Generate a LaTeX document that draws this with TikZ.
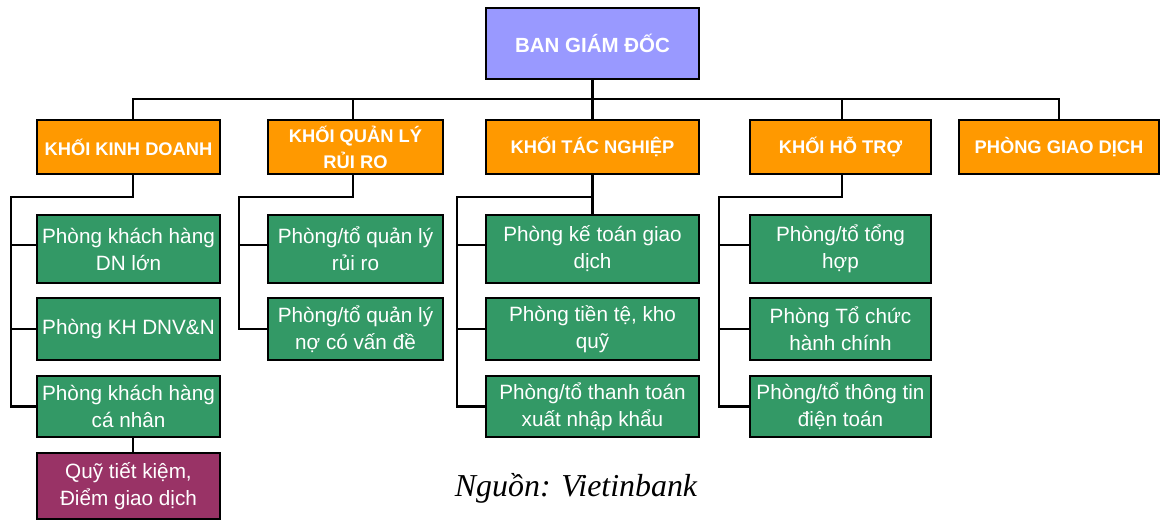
\documentclass[tikz,border=0pt]{standalone}
\usepackage{fontspec}
\setmainfont{Liberation Sans}
\newfontfamily\srcfont{Liberation Serif}
\definecolor{topfill}{HTML}{9999FF}
\definecolor{orgfill}{HTML}{FF9900}
\definecolor{grnfill}{HTML}{339966}
\definecolor{purfill}{HTML}{993366}
\tikzset{
  box/.style={draw=black, line width=2.7pt, inner sep=0pt, align=center, text=white, anchor=center},
  topbox/.style={box, fill=topfill, minimum width=213pt, minimum height=71pt, font=\bfseries\fontsize{20.5}{24}\selectfont},
  orgbox/.style={box, fill=orgfill, minimum height=54pt, font=\bfseries\fontsize{18.3}{26}\selectfont},
  grnbox/.style={box, fill=grnfill, font=\fontsize{20.7}{27}\selectfont},
  purbox/.style={box, fill=purfill, font=\fontsize{20.7}{27}\selectfont},
  conn/.style={draw=black, line width=2.7pt, line join=miter, line cap=rect},
}
\begin{document}
\begin{tikzpicture}[x=1pt, y=-1pt]
\useasboundingbox (0,0) rectangle (1161,520);
% top
\node[topbox] (top) at (592.5,43.5) {BAN GIÁM ĐỐC};
% level 2
\node[orgbox, minimum width=183pt] (kkd) at (128.5,147) {KHỐI KINH DOANH};
\node[orgbox, minimum width=175pt] (qlrr) at (355.5,147) {KHỐI QUẢN LÝ\\RỦI RO};
\node[orgbox, minimum width=213pt] (tn) at (592.5,147) {KHỐI TÁC NGHIỆP};
\node[orgbox, minimum width=181pt] (ht) at (840.5,147) {KHỐI HỖ TRỢ};
\node[orgbox, minimum width=200pt] (pgd) at (1059,147) {PHÒNG GIAO DỊCH};
% KKD column
\node[grnbox, minimum width=183pt, minimum height=68pt] (k1) at (128.5,249) {Phòng khách hàng\\DN lớn};
\node[grnbox, minimum width=183pt, minimum height=62pt] (k2) at (128.5,329) {Phòng KH DNV\&N};
\node[grnbox, minimum width=183pt, minimum height=61pt] (k3) at (128.5,406.5) {Phòng khách hàng\\cá nhân};
\node[purbox, minimum width=183pt, minimum height=66pt] (k4) at (128.5,486) {Quỹ tiết kiệm,\\Điểm giao dịch};
% QLRR column
\node[grnbox, minimum width=175pt, minimum height=68pt] (q1) at (355.5,249) {Phòng/tổ quản lý\\rủi ro};
\node[grnbox, minimum width=175pt, minimum height=62pt] (q2) at (355.5,329) {Phòng/tổ quản lý\\nợ có vấn đề};
% TN column
\node[grnbox, minimum width=213pt, minimum height=68pt] (t1) at (592.5,249) {Phòng kế toán giao\\dịch};
\node[grnbox, minimum width=213pt, minimum height=62pt] (t2) at (592.5,329) {Phòng tiền tệ, kho\\quỹ};
\node[grnbox, minimum width=213pt, minimum height=61pt] (t3) at (592.5,406.5) {Phòng/tổ thanh toán\\xuất nhập khẩu};
% HT column
\node[grnbox, minimum width=181pt, minimum height=68pt] (h1) at (840.5,249) {Phòng/tổ tổng\\hợp};
\node[grnbox, minimum width=181pt, minimum height=62pt] (h2) at (840.5,329) {Phòng Tổ chức\\hành chính};
\node[grnbox, minimum width=181pt, minimum height=61pt] (h3) at (840.5,406.5) {Phòng/tổ thông tin\\điện toán};
% source
\node[font=\srcfont\itshape\fontsize{31.9}{36}\selectfont, inner sep=0pt] (src) at (576,488) {Nguồn: Vietinbank};
% helper coordinates
\coordinate (busy) at (0,99);
\coordinate (bry) at (0,197);
\coordinate (rk) at (11,0);
\coordinate (rq) at (239,0);
\coordinate (rt) at (457,0);
\coordinate (rh) at (719,0);
\coordinate (kkdn) at ([xshift=4.5pt]kkd.north);
\coordinate (kkds) at ([xshift=4.5pt]kkd.south);
\coordinate (qlrrn) at ([xshift=-2.5pt]qlrr.north);
\coordinate (qlrrs) at ([xshift=-2.5pt]qlrr.south);
\coordinate (htn) at ([xshift=1.5pt]ht.north);
\coordinate (hts) at ([xshift=1.5pt]ht.south);
\coordinate (k1w) at ([yshift=4pt]k1.west);
\coordinate (q1w) at ([yshift=4pt]q1.west);
\coordinate (t1w) at ([yshift=4pt]t1.west);
\coordinate (h1w) at ([yshift=4pt]h1.west);
% connectors: top bus
\draw[conn] (top.south) -- (tn.north);
\draw[conn] (kkdn) -- (kkdn |- busy) -- (pgd.north |- busy) -- (pgd.north);
\draw[conn] (qlrrn) -- (qlrrn |- busy);
\draw[conn] (htn) -- (htn |- busy);
% KKD branch
\draw[conn] (kkds) -- (kkds |- bry) -- (rk |- bry) -- (rk |- k3.west) -- (k3.west);
\draw[conn] (rk |- k1w) -- (k1w);
\draw[conn] (rk |- k2.west) -- (k2.west);
\draw[conn] (kkds |- k3.south) -- (kkds |- k4.north);
% QLRR branch
\draw[conn] (qlrrs) -- (qlrrs |- bry) -- (rq |- bry) -- (rq |- q2.west) -- (q2.west);
\draw[conn] (rq |- q1w) -- (q1w);
% TN branch
\draw[conn] (tn.south) -- (t1.north);
\draw[conn] (tn.south |- bry) -- (rt |- bry) -- (rt |- t3.west) -- (t3.west);
\draw[conn] (rt |- t1w) -- (t1w);
\draw[conn] (rt |- t2.west) -- (t2.west);
% HT branch
\draw[conn] (hts) -- (hts |- bry) -- (rh |- bry) -- (rh |- h3.west) -- (h3.west);
\draw[conn] (rh |- h1w) -- (h1w);
\draw[conn] (rh |- h2.west) -- (h2.west);
\end{tikzpicture}
\end{document}
